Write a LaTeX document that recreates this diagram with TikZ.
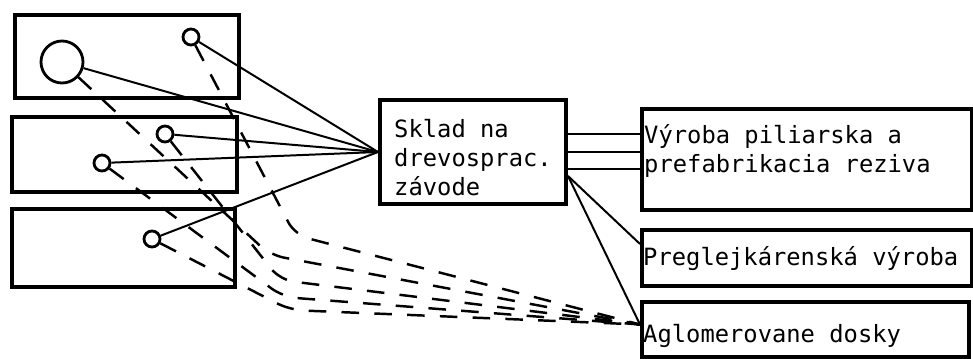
\documentclass[tikz,border=0pt]{standalone}
\usepackage{fontspec}
\newfontfamily\typewriter{DejaVu Sans Mono}
\usetikzlibrary{calc}
\begin{document}
\begin{tikzpicture}[x=0.03cm,y=-0.03cm,
  frame/.style={draw, line width=3.4pt, inner sep=0pt, anchor=north west},
  txt/.style={font=\typewriter\fontsize{20.3pt}{24.7pt}\selectfont, align=left, anchor=base west, inner sep=0pt},
  hole/.style={circle, draw, line width=2.4pt, inner sep=0pt, minimum size=0.48cm},
  bighole/.style={hole, minimum size=1.26cm},
  flow/.style={line width=1.7pt},
  dflow/.style={line width=2.1pt, dash pattern=on 15pt off 13pt, rounded corners=12pt}]
\useasboundingbox (0,0) rectangle (973,358);

% source areas
\node[frame, minimum width=6.72cm, minimum height=2.49cm] (b1) at (13,13) {};
\node[frame, minimum width=6.75cm, minimum height=2.25cm] (b2) at (10,115) {};
\node[frame, minimum width=6.69cm, minimum height=2.34cm] (b3) at (10,207) {};

% sources
\node[bighole] (bigc) at (62,62) {};
\node[hole] (c1) at (191,37) {};
\node[hole] (c2) at (165,134) {};
\node[hole] (c3) at (102,163) {};
\node[hole] (c4) at (152,239) {};

% store and processing lines
\node[frame, minimum width=5.58cm, minimum height=3.12cm] (sklad) at (378,98) {};
\node[frame, minimum width=9.9cm, minimum height=3.03cm] (vyroba) at (640,107) {};
\node[frame, minimum width=9.9cm, minimum height=1.68cm] (pregl) at (640,228) {};
\node[frame, minimum width=9.81cm, minimum height=1.65cm] (aglom) at (640,300) {};

% texts (base anchor sits on the last line)
\node[txt] (tsklad) at (394,195) {Sklad na\\drevosprac.\\závode};
\node[txt] (tvyroba) at (644,172) {Výroba piliarska a\\prefabrikacia reziva};
\node[txt] (tpregl) at (643,265) {Preglejkárenská výroba};
\node[txt] (taglom) at (643,342) {Aglomerovane dosky};

% supply to the store
\foreach \c in {bigc,c1,c2,c3,c4}
  \draw[flow] (\c) -- (sklad.west);

% store to sawmill
\coordinate (s1) at ($(sklad.east)+(0,-18)$);
\coordinate (s2) at (sklad.east);
\coordinate (s3) at ($(sklad.east)+(0,17)$);
\foreach \s in {s1,s2,s3}
  \draw[flow] (\s) -- (\s -| vyroba.west);

% store to plywood and board production
\coordinate (sout) at ($(sklad.south east)+(0,-30)$);
\coordinate (pin) at ($(pregl.west)+(0,-14)$);
\coordinate (ain) at ($(aglom.west)+(0,-5)$);
\draw[flow] (sout) -- (pin);
\draw[flow] (sout) -- (ain);

% direct supply to board production
\draw[dflow] (c1) -- (295,235) -- (ain);
\draw[dflow] (bigc) -- (270,255) -- (ain);
\draw[dflow] (c2) -- (280,280) -- (ain);
\draw[dflow] (c3) -- (283,297) -- (ain);
\draw[dflow] (c4) -- (290,310) -- (ain);
\end{tikzpicture}
\end{document}
